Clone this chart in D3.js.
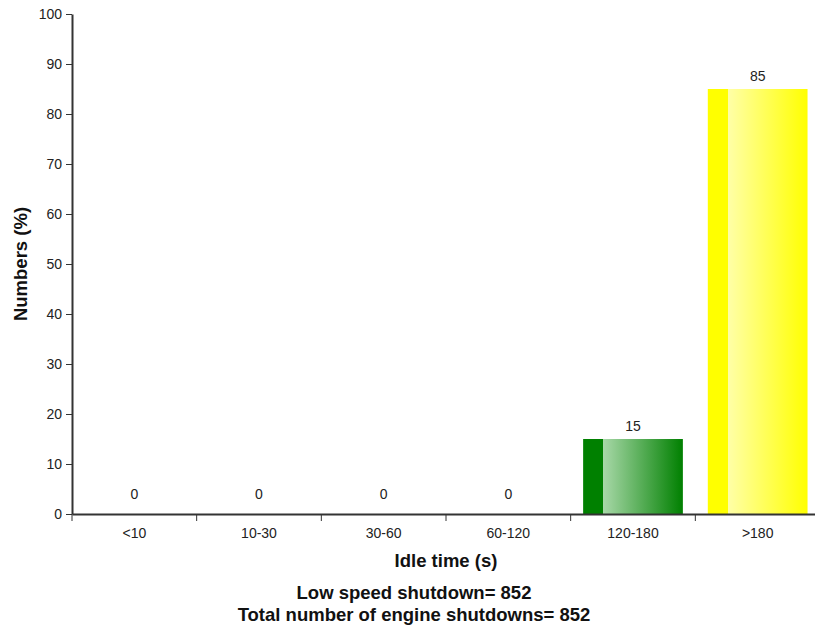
<!DOCTYPE html>
<html><head><meta charset="utf-8">
<script src="https://cdn.jsdelivr.net/npm/d3@7"></script>
<style>body{margin:0;background:#fff;font-family:Arial,"Liberation Sans",sans-serif;}</style>
</head><body>
<svg id="c" width="815" height="629"></svg>
<script>
const categories = ["<10","10-30","30-60","60-120","120-180",">180"];
const values = [0,0,0,0,15,85];
const barColors = [null,null,null,null,"#008000","#ffff00"];
const lightColors = [null,null,null,null,"#a8d8a8","#ffffa8"];
const yTicks = [0,10,20,30,40,50,60,70,80,90,100];
const footer = ["Low speed shutdown= 852","Total number of engine shutdowns= 852"];

(function(){
const svg = d3.select("#c");
const mLeft = 72, mRight = 820, mTop = 14, mBottom = 514;
const FF = "Arial, Liberation Sans, sans-serif";
const x = d3.scaleBand().domain(categories).range([mLeft,mRight]).paddingInner(0.2).paddingOuter(0.1);
const xb = d3.scaleBand().domain(categories).range([mLeft,mRight]);
const y = d3.scaleLinear().domain([0,100]).range([mBottom,mTop]);

const defs = svg.append("defs");
categories.forEach((c,i)=>{
  if(!barColors[i]) return;
  const g = defs.append("linearGradient").attr("id","g"+i).attr("x1","0%").attr("x2","100%");
  g.append("stop").attr("offset","0%").attr("stop-color",barColors[i]);
  g.append("stop").attr("offset","20%").attr("stop-color",barColors[i]);
  g.append("stop").attr("offset","20%").attr("stop-color",lightColors[i]);
  g.append("stop").attr("offset","100%").attr("stop-color",barColors[i]);
});

svg.selectAll("rect.bar").data(categories).enter().append("rect")
  .attr("x",d=>x(d)).attr("width",x.bandwidth())
  .attr("y",(d,i)=>y(values[i])).attr("height",(d,i)=>mBottom-y(values[i]))
  .attr("fill",(d,i)=>barColors[i]?`url(#g${i})`:"none");

svg.selectAll("text.val").data(categories).enter().append("text")
  .attr("x",d=>x(d)+x.bandwidth()/2)
  .attr("y",(d,i)=>values[i]===0 ? y(values[i])-15 : y(values[i])-8)
  .attr("text-anchor","middle").attr("font-size",14).attr("fill","#222").attr("font-family",FF)
  .text((d,i)=>values[i]);

const ya = svg.append("g").attr("transform",`translate(${mLeft},0)`)
  .call(d3.axisLeft(y).tickValues(yTicks).tickSize(6).tickSizeOuter(0).tickPadding(4));
ya.select(".domain").attr("stroke","#333").attr("stroke-width",2);
ya.selectAll(".tick line").attr("stroke","#333");
ya.selectAll("text").attr("font-size",14).attr("fill","#222").attr("font-family",FF);

const xa = svg.append("g").attr("transform",`translate(0,${mBottom})`)
  .call(d3.axisBottom(x).tickSize(0).tickSizeOuter(0).tickPadding(14));
xa.select(".domain").attr("stroke","#333").attr("stroke-width",2);
xa.selectAll("text").attr("font-size",14).attr("fill","#222").attr("font-family",FF);
svg.append("g").selectAll("line").data(categories).enter().append("line")
  .attr("x1",d=>xb(d)).attr("x2",d=>xb(d)).attr("y1",mBottom).attr("y2",mBottom+7)
  .attr("stroke","#333").attr("stroke-width",1);

svg.append("text").attr("x",(mLeft+mRight)/2).attr("y",567).attr("text-anchor","middle").attr("font-family",FF)
  .attr("font-size",18.5).attr("font-weight","bold").attr("fill","#111").text("Idle time (s)");
svg.append("text").attr("transform",`translate(27,${(mTop+mBottom)/2}) rotate(-90)`).attr("text-anchor","middle").attr("font-family",FF)
  .attr("font-size",18.5).attr("font-weight","bold").attr("fill","#111").text("Numbers (%)");
svg.selectAll("text.ft").data(footer).enter().append("text")
  .attr("x",414).attr("y",(d,i)=>599+i*22).attr("text-anchor","middle").attr("font-family",FF)
  .attr("font-size",18.5).attr("font-weight","bold").attr("fill","#111").text(d=>d);
})();
</script>
</body></html>
